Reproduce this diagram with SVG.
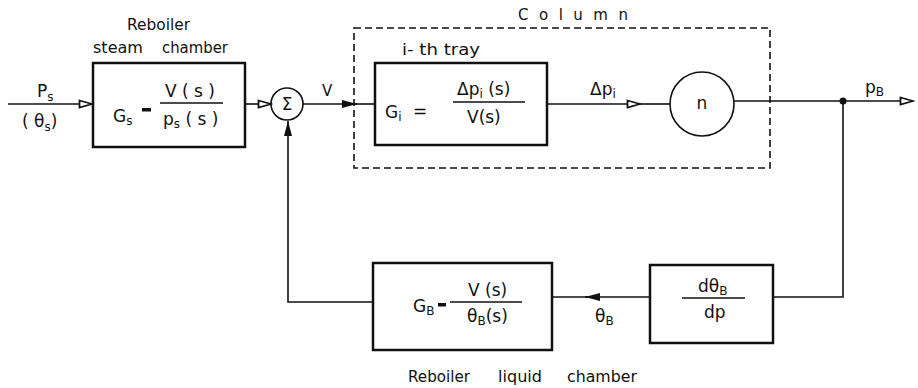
<svg xmlns="http://www.w3.org/2000/svg" width="918" height="388" viewBox="0 0 918 388">
<defs>
<marker id="open" markerWidth="16" markerHeight="10" refX="14" refY="5" orient="auto" markerUnits="userSpaceOnUse"><path d="M1.5,1.5 L14,5 L1.5,8.5 Z" fill="#fff" stroke="#111" stroke-width="1.8"/></marker>
<marker id="fill" markerWidth="16" markerHeight="10" refX="15" refY="5" orient="auto" markerUnits="userSpaceOnUse"><path d="M0,1 L15,5 L0,9 Z" fill="#111"/></marker>
</defs>
<style>
text{font-family:"DejaVu Sans","Liberation Sans",sans-serif;fill:#111}
.lbl{font-size:15px}
.f{font-size:17px}
.sub{font-size:12px}
.blk{fill:#fff;stroke:#111;stroke-width:2.5}
.ln{fill:none;stroke:#111;stroke-width:1.6}
.dash{fill:none;stroke:#111;stroke-width:1.6;stroke-dasharray:7,4}
.bar{stroke:#111;stroke-width:1.6}
</style>
<rect id="column" class="dash" x="354" y="28" width="416" height="140"/>
<text class="lbl" x="518" y="20" textLength="110" lengthAdjust="spacing">Column</text>
<g id="connectors">
<line class="ln" x1="8" y1="104" x2="92" y2="104" marker-end="url(#open)"/>
<line class="ln" x1="245" y1="104" x2="271" y2="104" marker-end="url(#open)"/>
<line class="ln" x1="303" y1="104" x2="357" y2="104" marker-end="url(#fill)"/>
<line class="ln" x1="354" y1="104" x2="375" y2="104"/>
<line class="ln" x1="547" y1="104" x2="640" y2="104" marker-end="url(#open)"/>
<line class="ln" x1="638" y1="104" x2="670" y2="104"/>
<line class="ln" x1="734" y1="101" x2="913" y2="101" marker-end="url(#open)"/>
<circle cx="843" cy="101" r="3.5" fill="#111"/>
<polyline class="ln" points="843,101 843,297 773,297"/>
<line class="ln" x1="650" y1="297" x2="585" y2="297" marker-end="url(#fill)"/>
<line class="ln" x1="588" y1="297" x2="552" y2="297"/>
<polyline class="ln" points="373,302 288,302 288,121" marker-end="url(#fill)"/>
</g>
<g id="input-labels">
<text class="f" x="37" y="97">P<tspan class="sub" dy="4">s</tspan></text>
<text class="f" x="22" y="127">( θ<tspan class="sub" dy="4">s</tspan><tspan dy="-4">)</tspan></text>
</g>
<g id="Gs">
<text class="lbl" x="127" y="30" textLength="63" lengthAdjust="spacingAndGlyphs">Reboiler</text>
<text class="lbl" x="93" y="53" textLength="50" lengthAdjust="spacingAndGlyphs">steam</text>
<text class="lbl" x="162" y="53" textLength="66" lengthAdjust="spacingAndGlyphs">chamber</text>
<rect class="blk" x="93" y="63" width="152" height="84"/>
<text class="f" x="113" y="122">G<tspan class="sub" dy="3">s</tspan></text>
<rect x="142" y="108" width="9" height="3.5" fill="#111"/>
<line class="bar" x1="160" y1="103" x2="223" y2="103"/>
<text class="f" x="165" y="97">V ( s )</text>
<text class="f" x="163" y="125">p<tspan class="sub" dy="3">s</tspan><tspan dy="-3"> ( s )</tspan></text>
</g>
<g id="sum">
<circle class="ln" cx="287" cy="104" r="16" stroke-width="2"/>
<text class="f" x="287" y="110" text-anchor="middle">Σ</text>
</g>
<text class="lbl" x="322" y="96">V</text>
<g id="Gi">
<text class="lbl" x="402" y="55" textLength="78" lengthAdjust="spacingAndGlyphs">i- th  tray</text>
<rect class="blk" x="375" y="63" width="172" height="82"/>
<text class="f" x="385" y="118">G<tspan class="sub" dy="3">i</tspan></text>
<text class="f" x="413" y="117">=</text>
<line class="bar" x1="453" y1="102" x2="525" y2="102"/>
<text class="f" x="457" y="95">Δp<tspan class="sub" dy="3">i</tspan><tspan dy="-3">  (s)</tspan></text>
<text class="f" x="467" y="123">V(s)</text>
</g>
<text class="f" x="590" y="95">Δp<tspan class="sub" dy="3">i</tspan></text>
<g id="n">
<circle class="ln" cx="702" cy="104" r="32" stroke-width="2"/>
<text class="f" x="702" y="109" text-anchor="middle">n</text>
</g>
<text class="f" x="865" y="93">p<tspan class="sub" dy="3">B</tspan></text>
<g id="dtheta">
<rect class="blk" x="650" y="265" width="123" height="78"/>
<line class="bar" x1="682" y1="298" x2="745" y2="298"/>
<text class="f" x="698" y="292">dθ<tspan class="sub" dy="3">B</tspan></text>
<text class="f" x="704" y="318">dp</text>
</g>
<text class="f" x="595" y="322">θ<tspan class="sub" dy="3">B</tspan></text>
<g id="GB">
<rect class="blk" x="373" y="263" width="179" height="87"/>
<text class="f" x="413" y="312">G<tspan class="sub" dy="3">B</tspan></text>
<rect x="438" y="303" width="8" height="3.5" fill="#111"/>
<line class="bar" x1="450" y1="302" x2="522" y2="302"/>
<text class="f" x="468" y="296">V (s)</text>
<text class="f" x="467" y="322">θ<tspan class="sub" dy="3">B</tspan><tspan dy="-3">(s)</tspan></text>
<text class="lbl" x="408" y="382" textLength="62" lengthAdjust="spacingAndGlyphs">Reboiler</text>
<text class="lbl" x="498" y="382" textLength="44" lengthAdjust="spacingAndGlyphs">liquid</text>
<text class="lbl" x="567" y="382" textLength="70" lengthAdjust="spacingAndGlyphs">chamber</text>
</g>
</svg>
